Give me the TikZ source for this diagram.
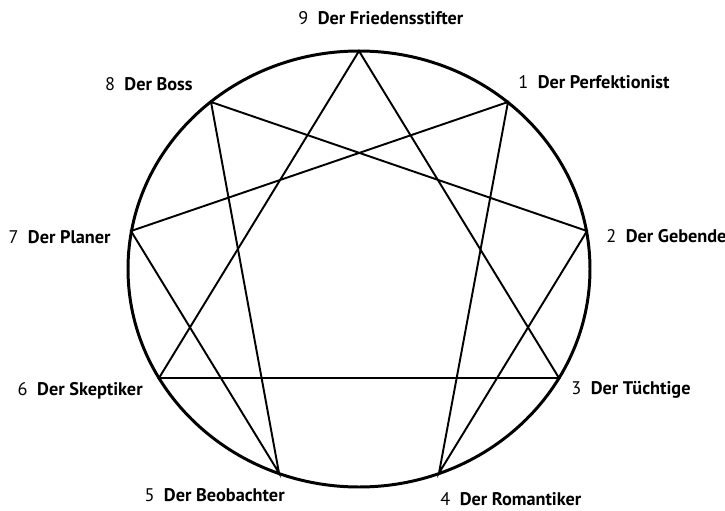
\documentclass[tikz,border=0pt]{standalone}
\usepackage{fontspec}
\setmainfont{PT Sans}

\begin{document}
\begin{tikzpicture}[
    x=0.02cm, y=-0.02cm,
    every node/.style={font=\fontsize{10.4}{12}\selectfont, inner sep=0pt},
    % Stijl voor de buitenste ring
    ring/.style={line width=1.7pt},
    % Stijl voor de verbindingslijnen
    chord/.style={line width=1.1pt, line join=miter},
    % Nummer en naam van elk type
    num/.style={},
    typename/.style={font=\fontsize{10.4}{12}\selectfont\bfseries}
]
\useasboundingbox (0,0) rectangle (725,511);

% --- Ring ---
\draw[ring] (359,269) ellipse [x radius=231, y radius=218];

% --- Punten op de ring ---
\coordinate (p9) at (359,51);
\coordinate (p1) at (508,102);
\coordinate (p2) at (587,231);
\coordinate (p3) at (559,378);
\coordinate (p4) at (439,473);
\coordinate (p5) at (279,473);
\coordinate (p6) at (159,378);
\coordinate (p7) at (131,231);
\coordinate (p8) at (211,102);

% --- Driehoek en zeshoek ---
\draw[chord] (p9) -- (p3) -- (p6) -- cycle;
\draw[chord] (p1) -- (p4) -- (p2) -- (p8) -- (p5) -- (p7) -- cycle;

% --- Labels rechts: nummer eerst ---
\node[num, anchor=base west] (n9) at (298,24) {9};
\node[typename, anchor=base west] (l9) at ([xshift=5pt]n9.base east) {Der Friedensstifter};
\node[num, anchor=base west] (n1) at (518,88) {1};
\node[typename, anchor=base west] (l1) at ([xshift=5pt]n1.base east) {Der Perfektionist};
\node[num, anchor=base west] (n2) at (606,242) {2};
\node[typename, anchor=base west] (l2) at ([xshift=5pt]n2.base east) {Der Gebende};
\node[num, anchor=base west] (n3) at (571,394) {3};
\node[typename, anchor=base west] (l3) at ([xshift=5pt]n3.base east) {Der Tüchtige};
\node[num, anchor=base west] (n4) at (440,505) {4};
\node[typename, anchor=base west] (l4) at ([xshift=5pt]n4.base east) {Der Romantiker};

% --- Labels links: naam eindigt bij de ring ---
\node[typename, anchor=base east] (l5) at (285,501) {Der Beobachter};
\node[num, anchor=base east] (n5) at ([xshift=-5pt]l5.base west) {5};
\node[typename, anchor=base east] (l6) at (143,395) {Der Skeptiker};
\node[num, anchor=base east] (n6) at ([xshift=-5pt]l6.base west) {6};
\node[typename, anchor=base east] (l7) at (111,243) {Der Planer};
\node[num, anchor=base east] (n7) at ([xshift=-5pt]l7.base west) {7};
\node[typename, anchor=base east] (l8) at (193,90) {Der Boss};
\node[num, anchor=base east] (n8) at ([xshift=-5pt]l8.base west) {8};

\end{tikzpicture}
\end{document}
